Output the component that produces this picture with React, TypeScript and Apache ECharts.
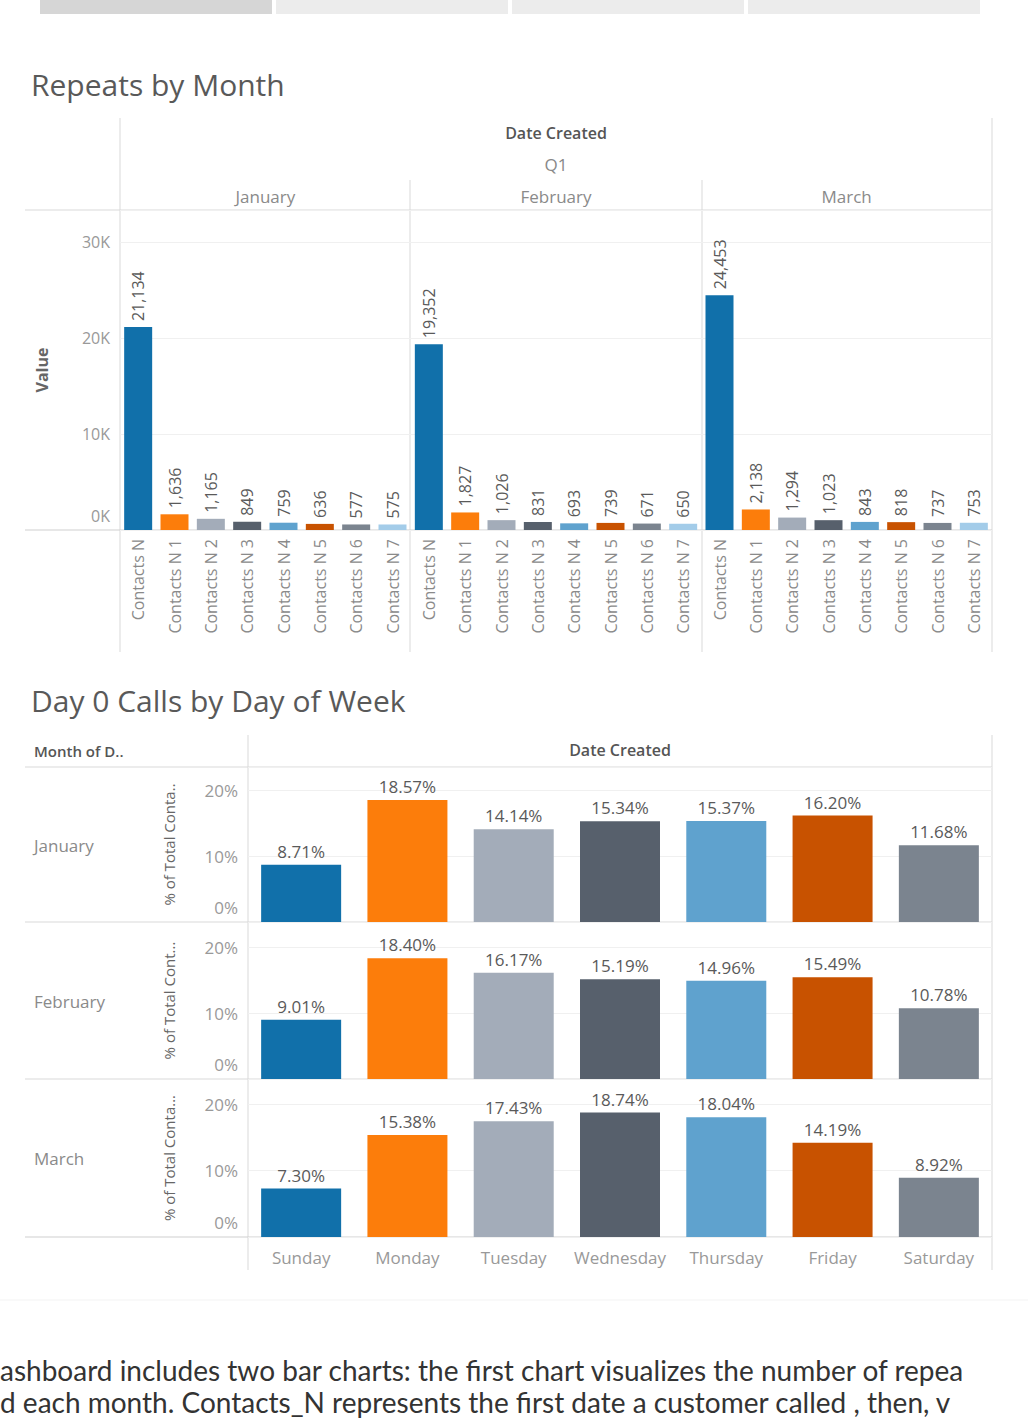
import React, { useEffect, useRef } from "react";
import * as echarts from "echarts";

const FONT = "'Open Sans', 'Noto Sans', sans-serif";
const BODY_FONT = "Lato, 'Open Sans', sans-serif";

const months = ["January", "February", "March"];
const contactCats = [
  "Contacts N",
  "Contacts N 1",
  "Contacts N 2",
  "Contacts N 3",
  "Contacts N 4",
  "Contacts N 5",
  "Contacts N 6",
  "Contacts N 7",
];
const janRepeats = [21134, 1636, 1165, 849, 759, 636, 577, 575];
const febRepeats = [19352, 1827, 1026, 831, 693, 739, 671, 650];
const marRepeats = [24453, 2138, 1294, 1023, 843, 818, 737, 753];
const repeatTicks = [0, 10000, 20000, 30000];

const days = ["Sunday", "Monday", "Tuesday", "Wednesday", "Thursday", "Friday", "Saturday"];
const janDay0 = [8.71, 18.57, 14.14, 15.34, 15.37, 16.2, 11.68];
const febDay0 = [9.01, 18.4, 16.17, 15.19, 14.96, 15.49, 10.78];
const marDay0 = [7.3, 15.38, 17.43, 18.74, 18.04, 14.19, 8.92];
const pctTicks = [0, 10, 20];
const pctAxisNames = ["% of Total Conta..", "% of Total Cont...", "% of Total Conta..."];

const palette = ["#1170aa", "#fc7d0b", "#a3acb9", "#57606c", "#5fa2ce", "#c85200", "#7b848f", "#a3cce9"];

const bodyLine1 = "ashboard includes two bar charts: the first chart visualizes the number of repea";
const bodyLine2 = "d each month. Contacts_N represents the first date a customer called , then, v";

const LINE = "#d9d9d9";

export default function App() {
  const ref = useRef<HTMLDivElement>(null);

  useEffect(() => {
    if (!ref.current) return;
    const chart = echarts.init(ref.current, undefined, { renderer: "svg" });

    const repeatSets = [janRepeats, febRepeats, marRepeats];
    const repeatLabels: string[] = [];
    const repeatData: any[] = [];
    repeatSets.forEach((set) => {
      set.forEach((v, i) => {
        repeatLabels.push(contactCats[i]);
        repeatData.push({ value: v, itemStyle: { color: palette[i] } });
      });
    });

    const daySets = [janDay0, febDay0, marDay0];
    const grids: any[] = [
      { left: 120, top: 210, width: 872, height: 320 },
      { left: 248, top: 767, width: 744, height: 155 },
      { left: 248, top: 922, width: 744, height: 157 },
      { left: 248, top: 1079, width: 744, height: 158 },
    ];
    const pctMax = [23.6, 23.9, 23.8];

    const xAxes: any[] = [
      {
        type: "category",
        gridIndex: 0,
        data: repeatLabels,
        axisLine: { show: false },
        axisTick: { show: false },
        axisLabel: {
          interval: 0,
          rotate: 90,
          margin: 9,
          fontSize: 16,
          color: "#8a8a8a",
          fontFamily: FONT,
        },
      },
      {
        type: "category",
        gridIndex: 0,
        position: "top",
        data: months,
        axisLine: { show: false },
        axisTick: { show: false },
        axisLabel: { margin: 5, fontSize: 17, color: "#8a8a8a", fontFamily: FONT },
      },
    ];
    const yAxes: any[] = [
      {
        type: "value",
        gridIndex: 0,
        min: 0,
        max: 33333,
        interval: 10000,
        name: "Value",
        nameLocation: "middle",
        nameRotate: 90,
        nameGap: 70,
        nameTextStyle: { fontSize: 16, fontWeight: "bold", color: "#666", fontFamily: FONT },
        axisLine: { show: false },
        axisTick: { show: false },
        splitLine: { lineStyle: { color: "#f0f0f0", width: 1 } },
        axisLabel: {
          margin: 10,
          fontSize: 16,
          color: "#999",
          fontFamily: FONT,
          formatter: (v: number) => {
            if (!repeatTicks.includes(v)) return "";
            return v === 0 ? "{z|0K}" : v / 1000 + "K";
          },
          rich: { z: { padding: [0, 0, 28, 0], fontSize: 16, color: "#999", fontFamily: FONT } },
        },
      },
    ];
    const series: any[] = [
      {
        type: "bar",
        xAxisIndex: 0,
        yAxisIndex: 0,
        data: repeatData,
        barWidth: 28,
        label: {
          show: true,
          position: "top",
          rotate: 90,
          align: "left",
          verticalAlign: "middle",
          distance: 6,
          fontSize: 16,
          color: "#5a5a5a",
          fontFamily: FONT,
          formatter: (p: any) => Number(p.value).toLocaleString("en-US"),
        },
      },
    ];

    daySets.forEach((set, k) => {
      const gi = k + 1;
      xAxes.push({
        type: "category",
        gridIndex: gi,
        data: days,
        axisLine: { show: false },
        axisTick: { show: false },
        axisLabel: {
          show: k === 2,
          interval: 0,
          margin: 12,
          fontSize: 17,
          color: "#999",
          fontFamily: FONT,
        },
      });
      yAxes.push({
        type: "value",
        gridIndex: gi,
        min: 0,
        max: pctMax[k],
        interval: 10,
        name: pctAxisNames[k],
        nameLocation: "middle",
        nameRotate: 90,
        nameGap: 72,
        nameTextStyle: { fontSize: 15, color: "#666", fontFamily: FONT },
        axisLine: { show: false },
        axisTick: { show: false },
        splitLine: { lineStyle: { color: "#f0f0f0", width: 1 } },
        axisLabel: {
          margin: 10,
          fontSize: 17,
          color: "#999",
          fontFamily: FONT,
          formatter: (v: number) => {
            if (!pctTicks.includes(v)) return "";
            return v === 0 ? "{z|0%}" : v + "%";
          },
          rich: { z: { padding: [0, 0, 30, 0], fontSize: 17, color: "#999", fontFamily: FONT } },
        },
      });
      series.push({
        type: "bar",
        xAxisIndex: gi + 1,
        yAxisIndex: gi,
        barWidth: 80,
        data: set.map((v, i) => ({ value: v, itemStyle: { color: palette[i] } })),
        label: {
          show: true,
          position: "top",
          distance: 5,
          fontSize: 17,
          color: "#5a5a5a",
          fontFamily: FONT,
          formatter: (p: any) => Number(p.value).toFixed(2) + "%",
        },
      });
    });

    const hline = (y: number, x1: number, x2: number, color = LINE) => ({
      type: "line",
      shape: { x1, y1: y, x2, y2: y },
      style: { stroke: color, lineWidth: 1 },
      silent: true,
    });
    const vline = (x: number, y1: number, y2: number, color = LINE) => ({
      type: "line",
      shape: { x1: x, y1, x2: x, y2 },
      style: { stroke: color, lineWidth: 1 },
      silent: true,
    });
    const txt = (
      text: string,
      x: number,
      y: number,
      fontSize: number,
      fill: string,
      align = "left",
      fontWeight: any = "normal",
      fontFamily = FONT,
      verticalAlign = "middle"
    ) => ({
      type: "text",
      x,
      y,
      silent: true,
      style: { text, fontSize, fill, align, verticalAlign, fontWeight, fontFamily },
    });

    const graphics: any[] = [
      // tabs
      { type: "rect", shape: { x: 40, y: 0, width: 232, height: 14 }, style: { fill: "#d6d6d6" } },
      { type: "rect", shape: { x: 276, y: 0, width: 232, height: 14 }, style: { fill: "#ececec" } },
      { type: "rect", shape: { x: 512, y: 0, width: 232, height: 14 }, style: { fill: "#ececec" } },
      { type: "rect", shape: { x: 748, y: 0, width: 232, height: 14 }, style: { fill: "#ececec" } },
      // titles
      txt("Repeats by Month", 31, 84, 30, "#595959"),
      txt("Day 0 Calls by Day of Week", 31, 700, 30, "#595959"),
      // top chart frame
      vline(120, 118, 652),
      vline(992, 118, 652),
      vline(410, 180, 652),
      vline(702, 180, 652),
      hline(210, 25, 992),
      hline(530, 25, 992, "#cfcfcf"),
      txt("Date Created", 556, 133, 16, "#555", "center", 600),
      txt("Q1", 556, 164, 17, "#888", "center"),
      // bottom chart frame
      vline(248, 735, 1270),
      vline(992, 735, 1270),
      hline(767, 25, 992),
      hline(922, 25, 992),
      hline(1079, 25, 992),
      hline(1237, 25, 992, "#cfcfcf"),
      txt("Month of D..", 34, 751, 15, "#555", "left", 600),
      txt("Date Created", 620, 750, 16, "#555", "center", 600),
      txt("January", 34, 845, 17, "#8a8a8a"),
      txt("February", 34, 1001, 17, "#8a8a8a"),
      txt("March", 34, 1158, 17, "#8a8a8a"),
      hline(1300, 0, 1028, "#f3f3f3"),
      txt(bodyLine1, 0, 1370, 28, "#333", "left", "normal", BODY_FONT),
      txt(bodyLine2, 0, 1388, 28, "#333", "left", "normal", BODY_FONT, "top"),
    ];

    chart.setOption({
      animation: false,
      backgroundColor: "#ffffff",
      textStyle: { fontFamily: FONT },
      grid: grids,
      xAxis: xAxes,
      yAxis: yAxes,
      series,
      graphic: graphics,
    });

    return () => chart.dispose();
  }, []);

  return (
    <div
      ref={ref}
      style={{ position: "absolute", left: 0, top: 0, width: 1028, height: 1422, overflow: "hidden" }}
    />
  );
}
